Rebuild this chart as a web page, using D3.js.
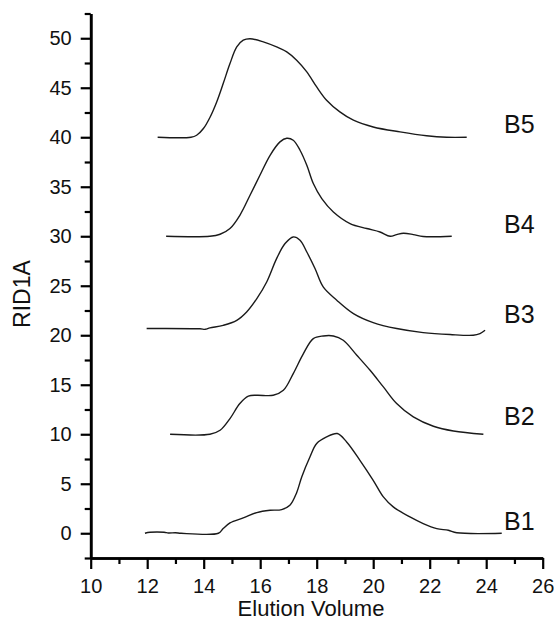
<!DOCTYPE html>
<html>
<head>
<meta charset="utf-8">
<script src="https://cdn.jsdelivr.net/npm/d3@7/dist/d3.min.js"></script>
<style>
  html, body { margin: 0; padding: 0; background: #fff; }
  svg { display: block; }
  text { font-family: Arial, "Liberation Sans", sans-serif; fill: #111; }
</style>
</head>
<body>
<svg id="chart" width="554" height="628"></svg>
<script>
// ---- data (Elution Volume, RID1A) ----
const seriesNames = ["B1", "B2", "B3", "B4", "B5"];
const b1 = [[11.92,0],[12.1,0.1],[12.6,0.1],[12.75,0.02],[13.0,0.05],[13.2,0],[14.52,0],[14.69,0.47],[14.93,1.04],[15.4,1.55],[15.88,2.09],[16.35,2.32],[16.76,2.39],[17.05,2.83],[17.29,4.1],[17.47,5.69],[17.76,7.71],[18.0,9.06],[18.35,9.73],[18.73,10.07],[19.06,9.22],[19.53,7.37],[20.0,5.35],[20.36,3.67],[20.71,2.66],[21.3,1.65],[21.77,0.98],[22.25,0.47],[22.66,0.3],[22.96,0.05],[24.55,0]];
const b2 = [[12.81,10],[14.22,10],[14.58,10.4],[14.93,11.58],[15.28,13.1],[15.58,13.84],[15.88,13.94],[16.46,13.94],[16.82,14.44],[17.17,16.13],[17.53,18.15],[17.88,19.66],[18.23,19.93],[18.59,19.93],[18.94,19.49],[19.42,17.98],[19.89,16.46],[20.36,14.78],[20.83,13.1],[21.42,11.75],[22.13,10.81],[22.84,10.33],[23.9,10]];
const b3 = [[11.98,20.68],[13.87,20.65],[14.05,20.6],[14.22,20.74],[14.69,21.0],[15.17,21.5],[15.52,22.35],[15.88,23.7],[16.23,25.38],[16.58,27.74],[16.88,29.26],[17.17,29.93],[17.41,29.6],[17.65,28.41],[17.94,26.74],[18.23,24.88],[18.71,23.54],[19.3,22.19],[20.0,21.28],[20.83,20.68],[21.77,20.27],[22.72,20.07],[23.54,20.0],[23.78,20.17],[23.96,20.5]];
const b4 = [[12.67,30],[14.22,30.0],[14.58,30.2],[14.93,30.78],[15.28,32.12],[15.64,34.14],[15.99,36.16],[16.35,38.18],[16.70,39.53],[16.94,39.9],[17.17,39.7],[17.41,38.69],[17.65,37.17],[17.88,35.32],[18.18,33.8],[18.59,32.45],[19.18,31.28],[19.77,30.78],[20.24,30.43],[20.6,30.0],[20.83,30.17],[21.07,30.3],[21.42,30.17],[21.77,29.97],[22.78,30]];
const b5 = [[12.37,40],[13.55,40],[13.75,40.2],[13.99,40.88],[14.22,42.0],[14.46,43.57],[14.69,45.42],[14.93,47.44],[15.17,49.12],[15.40,49.8],[15.64,49.95],[16.11,49.63],[16.58,49.12],[16.94,48.62],[17.29,47.78],[17.65,46.6],[18.0,45.08],[18.35,43.74],[18.82,42.56],[19.3,41.72],[20.0,41.04],[20.95,40.54],[21.89,40.15],[22.6,40.0],[23.31,40]];
const seriesData = [b1, b2, b3, b4, b5];
// label anchor values (y value where each label sits)
const labelY = [0.3, 10.9, 21.2, 30.3, 40.4];

const xMajorTicks = [10, 12, 14, 16, 18, 20, 22, 24, 26];
const xMinorTicks = [11, 13, 15, 17, 19, 21, 23, 25];
const yMajorTicks = [0, 5, 10, 15, 20, 25, 30, 35, 40, 45, 50];
const yMinorTicks = [-2.5, 2.5, 7.5, 12.5, 17.5, 22.5, 27.5, 32.5, 37.5, 42.5, 47.5, 52.5];

const xTitle = "Elution Volume";
const yTitle = "RID1A";

// ---- layout ----
const svg = d3.select("#chart");
const x = d3.scaleLinear().domain([10, 26]).range([90.7, 542.7]);
const y = d3.scaleLinear().domain([-2.5, 52.5]).range([558, 13.5]);

// curves
const line = d3.line().x(d => x(d[0])).y(d => y(d[1])).curve(d3.curveCatmullRom.alpha(0.5));
svg.append("g").selectAll("path").data(seriesData).join("path")
  .attr("d", line)
  .attr("fill", "none")
  .attr("stroke", "#1a1a1a")
  .attr("stroke-width", 1.4)
  .attr("stroke-linejoin", "round");

// series labels
svg.append("g").selectAll("text").data(seriesNames).join("text")
  .attr("x", 504)
  .attr("y", (d, i) => y(labelY[i]))
  .attr("font-size", 25)
  .text(d => d);

// axes
function styleAxis(g) {
  g.select(".domain").attr("stroke", "#000").attr("stroke-width", 2.6);
  g.selectAll(".tick line").attr("stroke", "#000").attr("stroke-width", 2.2);
  g.selectAll(".tick text").attr("font-size", 20).attr("fill", "#111")
    .attr("font-family", "Arial, 'Liberation Sans', sans-serif");
}

const xAxisMinor = d3.axisBottom(x).tickValues(xMinorTicks).tickSize(6).tickSizeOuter(0).tickFormat("");
const xAxis = d3.axisBottom(x).tickValues(xMajorTicks).tickSize(11).tickSizeOuter(0).tickPadding(10);
const yAxisMinor = d3.axisLeft(y).tickValues(yMinorTicks).tickSize(6).tickSizeOuter(0).tickFormat("");
const yAxis = d3.axisLeft(y).tickValues(yMajorTicks).tickSize(10).tickSizeOuter(0).tickPadding(9);

svg.append("g").attr("transform", `translate(0,${y(-2.5)})`).call(xAxisMinor).call(styleAxis);
svg.append("g").attr("transform", `translate(0,${y(-2.5)})`).call(xAxis).call(styleAxis);
svg.append("g").attr("transform", `translate(${x(10)},0)`).call(yAxisMinor).call(styleAxis);
svg.append("g").attr("transform", `translate(${x(10)},0)`).call(yAxis).call(styleAxis);

// titles
svg.append("text")
  .attr("x", 311).attr("y", 616)
  .attr("text-anchor", "middle")
  .attr("font-size", 22)
  .text(xTitle);
svg.append("text")
  .attr("transform", "translate(30,294) rotate(-90)")
  .attr("text-anchor", "middle")
  .attr("font-size", 23)
  .text(yTitle);
</script>
</body>
</html>
